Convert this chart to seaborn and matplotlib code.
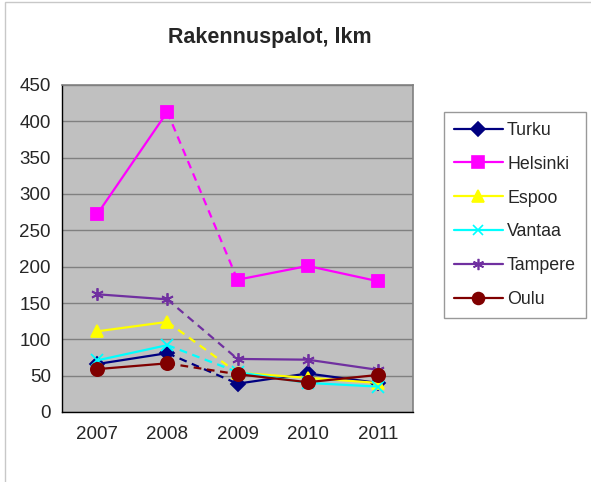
import numpy as np
import pandas as pd
import matplotlib
matplotlib.use("Agg")
import matplotlib.pyplot as plt
import seaborn as sns
from matplotlib.lines import Line2D
from matplotlib.patches import Rectangle

# Data
years = ['2007', '2008', '2009', '2010', '2011']
cities = ['Turku', 'Helsinki', 'Espoo', 'Vantaa', 'Tampere', 'Oulu']
turku = [66, 81, 39, 53, 40]
helsinki = [272, 413, 182, 201, 180]
espoo = [111, 124, 54, 47, 40]
vantaa = [71, 92, 55, 40, 35]
tampere = [162, 155, 73, 72, 58]
oulu = [59, 67, 52, 41, 51]

values = [turku, helsinki, espoo, vantaa, tampere, oulu]
colors = ['#000080', '#FF00FF', '#FFFF00', '#00FFFF', '#7030A0', '#800000']
markers = ['D', 's', '^', 'x', (6, 2, 0), 'o']
msizes = [7.5, 9, 9, 8, 9, 9.5]

sns.set_style('white')
plt.rcParams['font.family'] = ['Liberation Sans', 'DejaVu Sans']

fig = plt.figure(figsize=(5.91, 4.82), dpi=100)
ax = fig.add_axes([62 / 591, 1 - 412 / 482, (413 - 62) / 591, (412 - 85) / 482])
ax.set_facecolor('#C0C0C0')

pos = np.arange(len(years))

# Each series: solid 2007-2008, dashed 2008-2009, solid 2009-2011
for vals, c, m, ms in zip(values, colors, markers, msizes):
    df = pd.DataFrame({'x': pos, 'y': vals})
    sns.lineplot(data=df.iloc[1:3], x='x', y='y', ax=ax, color=c, lw=1.6,
                 linestyle=(0, (3.5, 2.5)), legend=False, zorder=3)
    for seg in [df.iloc[0:2], df.iloc[2:5]]:
        sns.lineplot(data=seg, x='x', y='y', ax=ax, color=c, lw=1.6,
                     marker=m, markersize=ms, markeredgecolor=c,
                     markerfacecolor=c, markeredgewidth=1.3,
                     legend=False, zorder=3)

ax.set_xlim(-0.5, len(years) - 0.5)
ax.set_ylim(0, 450)
ax.set_yticks(np.arange(0, 451, 50))
ax.set_xticks(pos)
ax.set_xticklabels(years)
ax.set_xticks(np.arange(-0.5, len(years), 1), minor=True)
ax.tick_params(axis='x', which='major', length=0, pad=10, labelsize=13.5)
ax.tick_params(axis='x', which='minor', length=5, width=0.8, color='#000000', direction='out')
ax.tick_params(axis='y', length=5, width=0.8, color='#000000', direction='out', pad=3, labelsize=13.5)
ax.set_xlabel('')
ax.set_ylabel('')
ax.yaxis.grid(True, color='#808080', lw=1.0)
ax.set_axisbelow(True)

for side in ['top', 'right']:
    ax.spines[side].set_color('#808080')
    ax.spines[side].set_linewidth(1.2)
for side in ['left', 'bottom']:
    ax.spines[side].set_color('#000000')
    ax.spines[side].set_linewidth(1.0)

fig.text(270 / 591, 1 - 38 / 482, 'Rakennuspalot, lkm', ha='center', va='center',
         fontsize=15.5, fontweight='bold')

handles = [Line2D([0], [0], color=c, lw=1.6, marker=m, markersize=ms * 0.9,
                  markeredgecolor=c, markerfacecolor=c, markeredgewidth=1.2)
           for c, m, ms in zip(colors, markers, msizes)]
leg = fig.legend(handles, cities, loc='upper left',
                 bbox_to_anchor=(444 / 591, 1 - 112 / 482),
                 fontsize=12.8, frameon=True, fancybox=False, edgecolor='#808080',
                 handlelength=2.75, handletextpad=0.25, labelspacing=0.95,
                 borderpad=0.55, borderaxespad=0)
leg.get_frame().set_linewidth(1.0)

# outer chart frame
fig.add_artist(Rectangle((5 / 591, -0.1), 1.2, 1.1 - 1.5 / 482, transform=fig.transFigure,
                         fill=False, edgecolor='#C8C8C8', lw=1.0))

fig.savefig('out.png', dpi=100, facecolor='white')
